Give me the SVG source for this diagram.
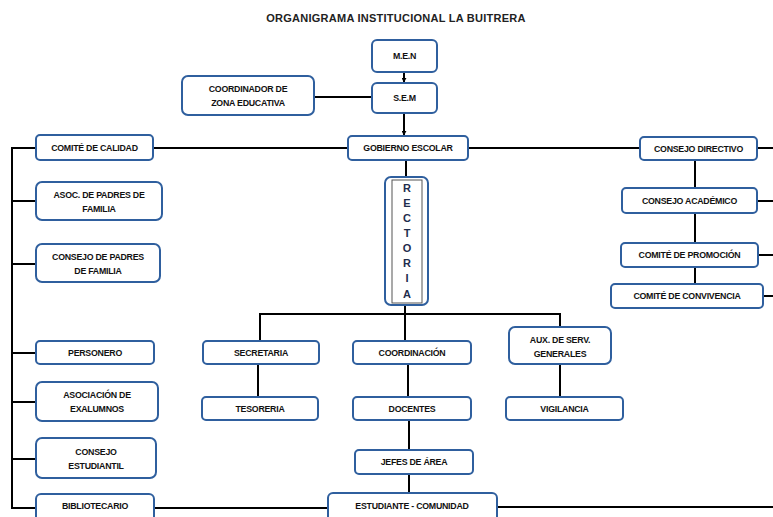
<svg xmlns="http://www.w3.org/2000/svg" width="773" height="517" viewBox="0 0 773 517">
<defs>
<marker id="arr" viewBox="0 0 6 6" refX="5" refY="3" markerWidth="5" markerHeight="5" orient="auto" markerUnits="userSpaceOnUse">
<path d="M0,0 L6,3 L0,6 Z" fill="#000"/>
</marker>
<style>
.box{fill:#fff;stroke:#2f5f9e;stroke-width:2}
.t{font-family:"Liberation Sans",Arial,sans-serif;font-weight:bold;font-size:8.8px;fill:#111;text-anchor:middle;letter-spacing:-0.25px}
.title{font-family:"Liberation Sans",Arial,sans-serif;font-weight:bold;font-size:11px;fill:#222;text-anchor:middle;letter-spacing:0.25px}
.c{fill:none;stroke:#000;stroke-width:2}
.v{font-family:"Liberation Sans",Arial,sans-serif;font-weight:bold;font-size:11px;fill:#1f2d4d;text-anchor:middle}
</style>
</defs>
<rect width="773" height="517" fill="#fff"/>
<text class="title" x="396" y="22">ORGANIGRAMA INSTITUCIONAL LA BUITRERA</text>

<g id="connectors">
<path class="c" d="M404,72 V82" marker-end="url(#arr)"/>
<path class="c" d="M404,113 V135" marker-end="url(#arr)"/>
<path class="c" d="M314,97 H372"/>
<path class="c" d="M153,148 H348 M468,148 H640 M757,148 H773"/>
<path class="c" d="M36,148 H12 V508 H36"/>
<path class="c" d="M12,201 H36 M12,264 H36 M12,353 H36 M12,402 H36 M12,459 H36"/>
<path class="c" d="M154,508 H328 M497,507 H773"/>
<path class="c" d="M406,160 V177"/>
<path class="c" d="M405,305 V341"/>
<path class="c" d="M260,340 V314 H560 V327"/>
<path class="c" d="M258,364 V397"/>
<path class="c" d="M408,364 V397 M409,420 V450 M409,474 V493"/>
<path class="c" d="M560,364 V397"/>
<path class="c" d="M695,160 V188 M695,213 V243 M695,267 V284"/>
<path class="c" d="M757,201 H773 M758,255 H773 M763,296 H773"/>
<path d="M159,198 V212" stroke="#111" stroke-width="2.5"/>
</g>

<g id="men"><rect class="box" x="372" y="40" width="65" height="32" rx="5"/><text class="t" x="404.5" y="59">M.E.N</text></g>
<g id="sem"><rect class="box" x="372" y="83" width="65" height="30" rx="5"/><text class="t" x="404.5" y="101">S.E.M</text></g>
<g id="coordinador"><rect class="box" x="182" y="76" width="132" height="39" rx="6"/><text class="t" x="248" y="92">COORDINADOR DE</text><text class="t" x="248" y="106">ZONA EDUCATIVA</text></g>
<g id="gobierno"><rect class="box" x="348" y="136" width="120" height="24" rx="4"/><text class="t" x="408" y="151">GOBIERNO  ESCOLAR</text></g>
<g id="rectoria"><rect class="box" x="385" y="177" width="43" height="128" rx="6"/><rect x="392" y="180" width="30" height="123" fill="none" stroke="#555" stroke-width="1"/>
<text class="v" x="407" y="192">R</text><text class="v" x="407" y="207">E</text><text class="v" x="407" y="222">C</text><text class="v" x="407" y="237">T</text><text class="v" x="407" y="252">O</text><text class="v" x="407" y="267">R</text><text class="v" x="407" y="282">I</text><text class="v" x="407" y="298">A</text></g>

<g id="calidad"><rect class="box" x="36" y="135" width="117" height="25" rx="4"/><text class="t" x="94.5" y="151">COMITÉ DE CALIDAD</text></g>
<g id="asoc-padres"><rect class="box" x="36" y="182" width="126" height="38" rx="6"/><text class="t" x="99" y="198">ASOC. DE PADRES DE</text><text class="t" x="99" y="212">FAMILIA</text></g>
<g id="consejo-padres"><rect class="box" x="36" y="244" width="124" height="38" rx="6"/><text class="t" x="98" y="260">CONSEJO DE PADRES</text><text class="t" x="98" y="274">DE FAMILIA</text></g>
<g id="personero"><rect class="box" x="36" y="341" width="118" height="23" rx="4"/><text class="t" x="95" y="356">PERSONERO</text></g>
<g id="exalumnos"><rect class="box" x="36" y="382" width="122" height="39" rx="6"/><text class="t" x="97" y="398">ASOCIACIÓN DE</text><text class="t" x="97" y="412">EXALUMNOS</text></g>
<g id="consejo-estudiantil"><rect class="box" x="36" y="438" width="120" height="40" rx="6"/><text class="t" x="96" y="455">CONSEJO</text><text class="t" x="96" y="469">ESTUDIANTIL</text></g>
<g id="bibliotecario"><rect class="box" x="36" y="494" width="118" height="28" rx="5"/><text class="t" x="95" y="509">BIBLIOTECARIO</text></g>

<g id="secretaria"><rect class="box" x="203" y="341" width="116" height="23" rx="4"/><text class="t" x="261" y="356">SECRETARIA</text></g>
<g id="tesoreria"><rect class="box" x="202" y="397" width="116" height="23" rx="4"/><text class="t" x="260" y="412">TESORERIA</text></g>
<g id="coordinacion"><rect class="box" x="353" y="341" width="118" height="23" rx="4"/><text class="t" x="412" y="356">COORDINACIÓN</text></g>
<g id="docentes"><rect class="box" x="353" y="397" width="118" height="23" rx="4"/><text class="t" x="412" y="412">DOCENTES</text></g>
<g id="jefes"><rect class="box" x="355" y="450" width="118" height="24" rx="4"/><text class="t" x="414" y="465">JEFES DE ÁREA</text></g>
<g id="estudiante"><rect class="box" x="328" y="493" width="169" height="30" rx="5"/><text class="t" x="412" y="509">ESTUDIANTE - COMUNIDAD</text></g>
<g id="aux"><rect class="box" x="509" y="327" width="102" height="37" rx="6"/><text class="t" x="560" y="343">AUX. DE SERV.</text><text class="t" x="560" y="357">GENERALES</text></g>
<g id="vigilancia"><rect class="box" x="506" y="397" width="117" height="23" rx="4"/><text class="t" x="564.5" y="412">VIGILANCIA</text></g>

<g id="directivo"><rect class="box" x="640" y="137" width="117" height="23" rx="4"/><text class="t" x="698.5" y="152">CONSEJO DIRECTIVO</text></g>
<g id="academico"><rect class="box" x="622" y="188" width="135" height="25" rx="4"/><text class="t" x="689.5" y="204">CONSEJO ACADÉMICO</text></g>
<g id="promocion"><rect class="box" x="621" y="243" width="137" height="24" rx="4"/><text class="t" x="689.5" y="258">COMITÉ DE PROMOCIÓN</text></g>
<g id="convivencia"><rect class="box" x="611" y="284" width="152" height="24" rx="4"/><text class="t" x="687" y="299">COMITÉ DE CONVIVENCIA</text></g>
</svg>
